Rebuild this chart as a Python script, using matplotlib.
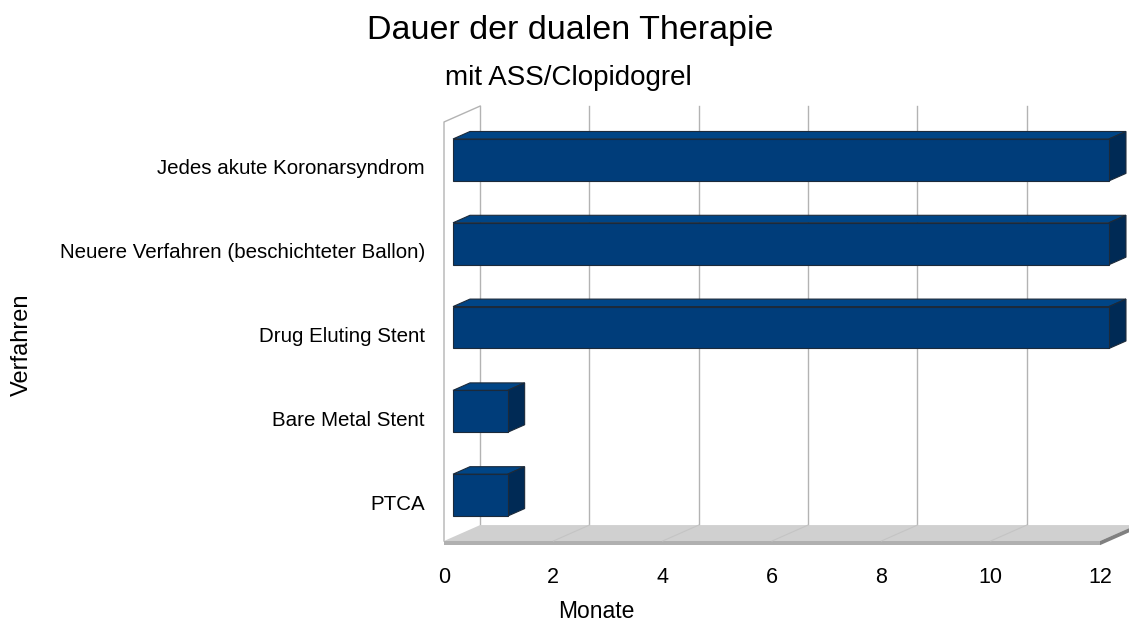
import numpy as np
import matplotlib
matplotlib.use('Agg')
import matplotlib.pyplot as plt
from matplotlib.patches import Polygon

plt.rcParams['font.family'] = ['Liberation Sans', 'DejaVu Sans']

# data
verfahren = ['PTCA', 'Bare Metal Stent', 'Drug Eluting Stent',
             'Neuere Verfahren (beschichteter Ballon)', 'Jedes akute Koronarsyndrom']
monate = [1, 1, 12, 12, 12]
x_ticks = [0, 2, 4, 6, 8, 10, 12]

W, H = 1129, 624
fig = plt.figure(figsize=(W / 100, H / 100), dpi=100)
ax = fig.add_axes([444 / W, (H - 541) / H, 656 / W, 419 / H])
ax.set_xlim(0, 12)
ax.set_ylim(-0.5, 4.5)
ax.axis('off')

# depth of the 3d box in data units
dx, dy = 0.66, 0.19
y0, y1 = -0.5, 4.5
xmax = x_ticks[-1]
grid_col = '#b3b3b3'


def poly(pts, fc, ec='none', lw=0.8, z=1):
    p = Polygon(pts, closed=True, facecolor=fc, edgecolor=ec, linewidth=lw,
                clip_on=False, zorder=z, joinstyle='miter')
    ax.add_patch(p)


# back wall gridlines
for k in x_ticks:
    ax.plot([k + dx, k + dx], [y0 + dy, y1 + dy], color=grid_col, lw=1,
            clip_on=False, zorder=1)

# left wall outline
ax.plot([0, 0, dx], [y0, y1, y1 + dy], color=grid_col, lw=1, clip_on=False, zorder=1)

# floor
t = 0.05
poly([(0, y0), (xmax, y0), (xmax + dx, y0 + dy), (dx, y0 + dy)], '#d0d0d0', z=2)
poly([(0, y0 - t), (xmax, y0 - t), (xmax, y0), (0, y0)], '#b0b0b0', z=2)
poly([(xmax, y0 - t), (xmax + dx, y0 + dy - t), (xmax + dx, y0 + dy), (xmax, y0)],
     '#808080', z=2)
for k in x_ticks[1:-1]:
    ax.plot([k, k + dx], [y0, y0 + dy], color='#c4c4c4', lw=0.8, clip_on=False, zorder=3)

# bars
d0, d1 = 0.25, 0.72
bh = 0.25
edge = '#1c2a3a'
for i, v in enumerate(monate):
    ox, oy = d0 * dx, d0 * dy
    ddx, ddy = (d1 - d0) * dx, (d1 - d0) * dy
    xa, xb = ox, v + ox
    ya, yb = i - bh + oy, i + bh + oy
    # top face
    poly([(xa, yb), (xb, yb), (xb + ddx, yb + ddy), (xa + ddx, yb + ddy)],
         '#004586', edge, z=4)
    # side face
    poly([(xb, ya), (xb + ddx, ya + ddy), (xb + ddx, yb + ddy), (xb, yb)],
         '#002a55', edge, z=4)
    # front face
    poly([(xa, ya), (xb, ya), (xb, yb), (xa, yb)], '#003d7a', edge, z=5)

# labels
for i, lab in enumerate(verfahren):
    ax.text(-0.35, i - 0.125, lab, ha='right', va='baseline', fontsize=14.8,
            color='black')
for k in x_ticks:
    ax.text(k, -0.93, str(k), ha='center', va='center', fontsize=15.5, color='black')

fig.text(570 / W, 1 - 30 / H, 'Dauer der dualen Therapie', ha='center', va='center',
         fontsize=24.5)
fig.text(568 / W, 1 - 78 / H, 'mit ASS/Clopidogrel', ha='center', va='center',
         fontsize=20)
fig.text(596 / W, 1 - 612 / H, 'Monate', ha='center', va='center', fontsize=16.5)
fig.text(22 / W, 1 - 345 / H, 'Verfahren', ha='center', va='center', fontsize=17,
         rotation=90)

fig.savefig('out.png', dpi=100)
